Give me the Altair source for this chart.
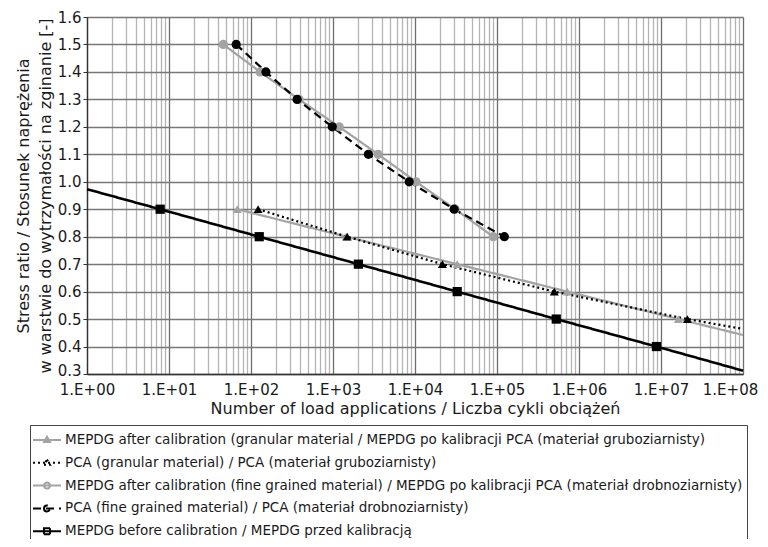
import math
import altair as alt
import pandas as pd

# ---------------- data ----------------
SERIES = [
    "MEPDG after calibration (granular material / MEPDG po kalibracji PCA (materiał gruboziarnisty)",
    "PCA (granular material) / PCA (materiał gruboziarnisty)",
    "MEPDG after calibration (fine grained material) / MEPDG po kalibracji PCA (materiał drobnoziarnisty)",
    "PCA (fine grained material) / PCA (materiał drobnoziarnisty)",
    "MEPDG before calibration / MEPDG przed kalibracją",
]

# MEPDG after calibration, granular (grey, triangles)
mepdg_gran_n = [68, 1450, 32700, 720000, 1.63e7]
mepdg_gran_sr = [0.9, 0.8, 0.7, 0.6, 0.5]
mepdg_gran_tail_n = [1e8]
mepdg_gran_tail_sr = [0.442]

# PCA, granular (black dotted, triangles)
pca_gran_n = [122, 1490, 21600, 500000, 2.1e7]
pca_gran_sr = [0.9, 0.8, 0.7, 0.6, 0.5]
pca_gran_tail_n = [1e8]
pca_gran_tail_sr = [0.464]

# MEPDG after calibration, fine grained (grey, circles)
mepdg_fine_n = [46, 129, 385, 1190, 3550, 10300, 31000, 90000]
mepdg_fine_sr = [1.5, 1.4, 1.3, 1.2, 1.1, 1.0, 0.9, 0.8]
mepdg_fine_tail_n = []
mepdg_fine_tail_sr = []

# PCA, fine grained (black dashed, circles)
pca_fine_n = [66, 152, 365, 980, 2700, 8500, 30000, 123000]
pca_fine_sr = [1.5, 1.4, 1.3, 1.2, 1.1, 1.0, 0.9, 0.8]
pca_fine_tail_n = []
pca_fine_tail_sr = []

# MEPDG before calibration (black, squares)
mepdg_before_n = [7.8, 126, 2040, 32700, 528000, 8.8e6]
mepdg_before_sr = [0.9, 0.8, 0.7, 0.6, 0.5, 0.4]
mepdg_before_tail_n = [1, 1e8]
mepdg_before_tail_sr = [0.973, 0.312]

X_TITLE = "Number of load applications / Liczba cykli obciążeń"
Y_TITLE = ["Stress ratio / Stosunek naprężenia", "w warstwie do wytrzymałości na zginanie [-]"]
Y_TICKS = [round(0.3 + 0.1 * i, 1) for i in range(14)]
X_TICKS = [m * 10 ** k for k in range(8) for m in range(1, 10)] + [10 ** 8]

series_points = [
    (mepdg_gran_n, mepdg_gran_sr, mepdg_gran_tail_n, mepdg_gran_tail_sr),
    (pca_gran_n, pca_gran_sr, pca_gran_tail_n, pca_gran_tail_sr),
    (mepdg_fine_n, mepdg_fine_sr, mepdg_fine_tail_n, mepdg_fine_tail_sr),
    (pca_fine_n, pca_fine_sr, pca_fine_tail_n, pca_fine_tail_sr),
    (mepdg_before_n, mepdg_before_sr, mepdg_before_tail_n, mepdg_before_tail_sr),
]

rows = []
for name, (n, sr, tn, tsr) in zip(SERIES, series_points):
    for a, b in zip(n, sr):
        rows.append({"series": name, "n": a, "sr": b, "marker": True})
    for a, b in zip(tn, tsr):
        rows.append({"series": name, "n": a, "sr": b, "marker": False})
df = pd.DataFrame(rows)

# ---------------- styles ----------------
GREY = "#a3a3a3"
STYLE = {
    SERIES[0]: dict(color=GREY, dash=[1, 0], width=2.2, shape="triangle-up", size=80),
    SERIES[1]: dict(color="#000000", dash=[2, 3], width=2.2, shape="triangle-up", size=80),
    SERIES[2]: dict(color=GREY, dash=[1, 0], width=2.2, shape="circle", size=85),
    SERIES[3]: dict(color="#000000", dash=[8, 5], width=2.2, shape="circle", size=85),
    SERIES[4]: dict(color="#000000", dash=[1, 0], width=2.6, shape="square", size=85),
}
LEG_LINE = "M-1.4,0H1.4"
LEG_MARK = {
    "triangle-up": "M0,-0.32L0.3,0.2L-0.3,0.2Z",
    "circle": "M-0.3,0A0.3,0.3 0 1,0 0.3,0A0.3,0.3 0 1,0 -0.3,0",
    "square": "M-0.3,-0.3H0.3V0.3H-0.3Z",
}

FONT = "DejaVu Sans"
W, H = 656, 357

xscale = alt.Scale(type="log", domain=[1, 1e8], nice=False)
yscale = alt.Scale(domain=[0.3, 1.6], nice=False, zero=False)

major = "abs(log(datum.value)/LN10 - round(log(datum.value)/LN10)) < 1e-6"
xaxis = alt.Axis(
    values=X_TICKS,
    labelExpr=f"({major}) ? '1.E+' + (round(log(datum.value)/LN10) < 10 ? '0' : '') + round(log(datum.value)/LN10) : ''",
    ticks=False,
    labelFlush=False,
    labelOverlap=False,
    labelOffset={"condition": {"test": "datum.value >= 1e8", "value": -13}, "value": 0},
    labelFont=FONT, labelFontSize=15, labelColor="#1a1a1a", labelPadding=8,
    title=X_TITLE, titleFont=FONT, titleFontSize=16, titleFontWeight="normal",
    titleColor="#1a1a1a", titlePadding=3,
    gridColor={"condition": {"test": major, "value": "#6e6e6e"}, "value": "#b4b4b4"},
    gridWidth=1.3,
    domainColor="#333333", domainWidth=1.3,
)
yaxis = alt.Axis(
    values=Y_TICKS, format=".1f",
    labelOverlap=False,
    labelOffset={"condition": {"test": "datum.value < 0.35", "value": -4}, "value": 0},
    labelFont=FONT, labelFontSize=15, labelColor="#1a1a1a", labelPadding=2,
    tickSize=4, tickColor="#333333",
    title=Y_TITLE, titleFont=FONT, titleFontSize=16, titleFontWeight="normal",
    titleColor="#1a1a1a", titlePadding=4, titleLineHeight=22,
    gridColor="#777777", gridWidth=1.3,
    domainColor="#333333", domainWidth=1.3,
)

# every layer carries the same explicit axis so that they merge cleanly
XN = alt.X("n:Q", scale=xscale, axis=xaxis)
YN = alt.Y("sr:Q", scale=yscale, axis=yaxis)

base = alt.Chart(df)
layers = []
for name in SERIES:
    st = STYLE[name]
    sub = base.transform_filter(alt.datum.series == name)
    layers.append(
        sub.mark_line(color=st["color"], strokeDash=st["dash"], strokeWidth=st["width"]).encode(
            x=XN, y=YN, order="n:Q"
        )
    )
for name in SERIES:
    st = STYLE[name]
    sub = base.transform_filter((alt.datum.series == name) & (alt.datum.marker == True))
    layers.append(
        sub.mark_point(shape=st["shape"], size=st["size"], filled=True, opacity=1,
                       color=st["color"]).encode(x=XN, y=YN)
    )

# legend carrier layer
leg = alt.Legend(
    title=None, orient="none", legendX=-57, legendY=408, direction="vertical",
    strokeColor="#444444", fillColor="white", padding=4,
    symbolSize=400, symbolStrokeWidth=2, symbolOffset=2, labelOffset=7,
    labelFont=FONT, labelFontSize=13.5, labelColor="#1a1a1a", labelLimit=2000,
    rowPadding=4.8, symbolLimit=0,
)
dom = SERIES
layers.append(
    base.transform_filter(alt.datum.marker == True).mark_point(opacity=0, filled=True).encode(
        x=XN, y=YN,
        fill=alt.Fill("series:N", scale=alt.Scale(domain=dom, range=[STYLE[s]["color"] for s in dom]), legend=leg),
        stroke=alt.Stroke("series:N", scale=alt.Scale(domain=dom, range=[STYLE[s]["color"] for s in dom]), legend=leg),
        shape=alt.Shape("series:N", scale=alt.Scale(domain=dom, range=[LEG_LINE + LEG_MARK[STYLE[s]["shape"]] for s in dom]), legend=leg),
        strokeDash=alt.StrokeDash("series:N", scale=alt.Scale(domain=dom, range=[STYLE[s]["dash"] for s in dom]), legend=leg),
    )
)

chart = alt.layer(*layers).properties(
    width=W, height=H,
    autosize=alt.AutoSizeParams(type="none"),
    padding={"left": 79, "top": 9, "right": 17, "bottom": 165},
).configure_view(stroke=None).configure_axis(labelOverlap=False).configure(background="white")

chart.save("out.html", embed_options={"renderer": "svg", "actions": False})
